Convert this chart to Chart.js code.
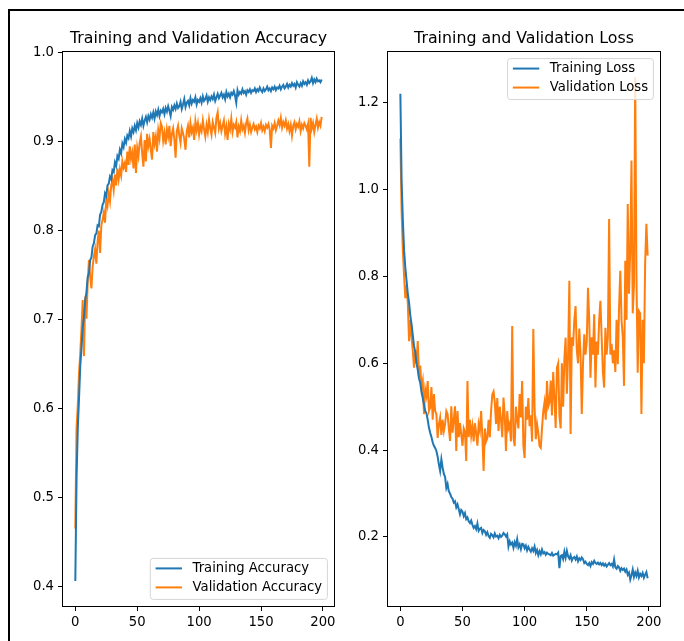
<!DOCTYPE html>
<html>
<head>
<meta charset="utf-8">
<script src="https://cdn.jsdelivr.net/npm/chart.js@4.4.0/dist/chart.umd.min.js"></script>
<style>
body { margin: 0; background: #fff; width: 684px; height: 641px; overflow: hidden; position: relative; }
#frame { position: absolute; left: 8px; top: 9px; width: 700px; height: 660px; border: 2px solid #000; box-sizing: border-box; }
canvas { position: absolute; top: 12px; }
#accChart { left: 12px; }
#lossChart { left: 345px; }
</style>
</head>
<body>
<div id="frame"></div>
<canvas id="accChart" width="330" height="625"></canvas>
<canvas id="lossChart" width="335" height="625"></canvas>
<script>
// tick labels
let epochTicks = [0, 50, 100, 150, 200]
let accTicks = [0.4, 0.5, 0.6, 0.7, 0.8, 0.9, 1.0]
let lossTicks = [0.2, 0.4, 0.6, 0.8, 1.0, 1.2]

// values, one per epoch (0..199)
let trainAcc = [
	0.406, 0.522, 0.578, 0.612, 0.648, 0.668, 0.692, 0.703, 0.722, 0.731,
	0.748, 0.752, 0.767, 0.770, 0.782, 0.786, 0.795, 0.797, 0.806, 0.805,
	0.818, 0.821, 0.829, 0.832, 0.842, 0.839, 0.851, 0.853, 0.861, 0.858,
	0.868, 0.866, 0.877, 0.873, 0.884, 0.881, 0.891, 0.887, 0.898, 0.894,
	0.903, 0.899, 0.907, 0.904, 0.912, 0.906, 0.915, 0.911, 0.918, 0.913,
	0.921, 0.916, 0.923, 0.919, 0.926, 0.918, 0.924, 0.928, 0.922, 0.929,
	0.925, 0.931, 0.927, 0.933, 0.926, 0.934, 0.930, 0.936, 0.929, 0.935,
	0.933, 0.937, 0.931, 0.938, 0.934, 0.940, 0.935, 0.929, 0.939, 0.936,
	0.941, 0.937, 0.943, 0.938, 0.940, 0.945, 0.937, 0.942, 0.948, 0.939,
	0.944, 0.946, 0.941, 0.949, 0.943, 0.947, 0.945, 0.950, 0.942, 0.947,
	0.945, 0.949, 0.944, 0.951, 0.946, 0.948, 0.952, 0.945, 0.950, 0.947,
	0.951, 0.948, 0.953, 0.946, 0.950, 0.954, 0.949, 0.952, 0.955, 0.950,
	0.953, 0.948, 0.956, 0.951, 0.954, 0.950, 0.955, 0.953, 0.957, 0.952,
	0.944, 0.958, 0.953, 0.956, 0.954, 0.959, 0.955, 0.957, 0.953, 0.958,
	0.956, 0.959, 0.955, 0.958, 0.957, 0.960, 0.956, 0.959, 0.957, 0.961,
	0.958, 0.956, 0.960, 0.957, 0.959, 0.962, 0.958, 0.960, 0.957, 0.961,
	0.959, 0.962, 0.958, 0.961, 0.960, 0.963, 0.959, 0.962, 0.964, 0.960,
	0.962, 0.965, 0.961, 0.964, 0.962, 0.966, 0.963, 0.965, 0.961, 0.967,
	0.964, 0.962, 0.966, 0.963, 0.968, 0.965, 0.967, 0.964, 0.969, 0.966,
	0.968, 0.972, 0.966, 0.970, 0.967, 0.971, 0.968, 0.969, 0.967, 0.970,
]

let valAcc = [
	0.465, 0.578, 0.603, 0.640, 0.662, 0.690, 0.722, 0.659, 0.726, 0.701,
	0.742, 0.767, 0.748, 0.735, 0.760, 0.771, 0.779, 0.763, 0.788, 0.800,
	0.775, 0.806, 0.812, 0.820, 0.809, 0.835, 0.828, 0.842, 0.833, 0.851,
	0.857, 0.846, 0.863, 0.851, 0.870, 0.858, 0.869, 0.862, 0.878, 0.871,
	0.876, 0.866, 0.889, 0.874, 0.895, 0.881, 0.888, 0.870, 0.897, 0.865,
	0.893, 0.884, 0.899, 0.906, 0.887, 0.872, 0.902, 0.878, 0.909, 0.895,
	0.903, 0.891, 0.880, 0.911, 0.898, 0.906, 0.889, 0.913, 0.904, 0.921,
	0.917, 0.901, 0.910, 0.897, 0.914, 0.906, 0.918, 0.895, 0.909, 0.915,
	0.903, 0.882, 0.912, 0.918, 0.907, 0.899, 0.915, 0.910, 0.903, 0.891,
	0.912, 0.918, 0.905, 0.921, 0.911, 0.916, 0.902, 0.923, 0.913, 0.921,
	0.908, 0.917, 0.912, 0.924, 0.914, 0.906, 0.919, 0.911, 0.925, 0.915,
	0.908, 0.922, 0.916, 0.910, 0.927, 0.933, 0.915, 0.921, 0.912, 0.918,
	0.924, 0.909, 0.917, 0.902, 0.920, 0.914, 0.926, 0.911, 0.919, 0.916,
	0.922, 0.905, 0.917, 0.912, 0.924, 0.914, 0.918, 0.910, 0.921, 0.926,
	0.913, 0.919, 0.911, 0.916, 0.920, 0.914, 0.917, 0.911, 0.918, 0.915,
	0.921, 0.913, 0.917, 0.912, 0.919, 0.916, 0.920, 0.914, 0.893, 0.918,
	0.915, 0.921, 0.913, 0.918, 0.924, 0.919, 0.927, 0.916, 0.922, 0.918,
	0.924, 0.915, 0.920, 0.912, 0.919, 0.907, 0.918, 0.922, 0.914, 0.920,
	0.917, 0.923, 0.912, 0.919, 0.915, 0.921, 0.918, 0.914, 0.920, 0.872,
	0.927, 0.915, 0.921, 0.911, 0.919, 0.926, 0.916, 0.922, 0.918, 0.928,
]

let trainLoss = [
	1.221, 1.020, 0.930, 0.860, 0.820, 0.790, 0.760, 0.740, 0.710, 0.690,
	0.665, 0.640, 0.625, 0.600, 0.585, 0.565, 0.555, 0.535, 0.520, 0.505,
	0.490, 0.485, 0.470, 0.452, 0.440, 0.430, 0.418, 0.410, 0.405, 0.398,
	0.385, 0.367, 0.352, 0.379, 0.360, 0.345, 0.338, 0.313, 0.322, 0.305,
	0.300, 0.292, 0.288, 0.279, 0.282, 0.268, 0.275, 0.264, 0.252, 0.262,
	0.258, 0.248, 0.255, 0.241, 0.245, 0.236, 0.232, 0.238, 0.228, 0.221,
	0.225, 0.218, 0.231, 0.214, 0.219, 0.221, 0.209, 0.216, 0.213, 0.205,
	0.211, 0.202, 0.198, 0.207, 0.204, 0.199, 0.208, 0.201, 0.203, 0.197,
	0.205, 0.200, 0.203, 0.209, 0.206, 0.201, 0.206, 0.178, 0.190, 0.183,
	0.187, 0.175, 0.188, 0.180, 0.195, 0.176, 0.183, 0.172, 0.184, 0.183,
	0.174, 0.180, 0.169, 0.177, 0.171, 0.166, 0.174, 0.168, 0.178, 0.163,
	0.170, 0.158, 0.167, 0.160, 0.171, 0.162, 0.165, 0.159, 0.164, 0.161,
	0.160, 0.158, 0.163, 0.157, 0.159, 0.161, 0.160, 0.164, 0.128, 0.156,
	0.158, 0.149, 0.166, 0.152, 0.168, 0.155, 0.150, 0.158, 0.146, 0.152,
	0.154, 0.148, 0.155, 0.144, 0.151, 0.147, 0.153, 0.149, 0.140, 0.143,
	0.138, 0.135, 0.140, 0.133, 0.142, 0.138, 0.145, 0.140, 0.138, 0.141,
	0.137, 0.140, 0.135, 0.139, 0.134, 0.138, 0.132, 0.136, 0.140, 0.135,
	0.138, 0.132, 0.148, 0.130, 0.127, 0.133, 0.130, 0.122, 0.128, 0.124,
	0.127, 0.120, 0.125, 0.113, 0.118, 0.102, 0.112, 0.125, 0.108, 0.118,
	0.110, 0.122, 0.107, 0.115, 0.110, 0.117, 0.106, 0.113, 0.119, 0.105,
]

let valLoss = [
	1.118, 0.950, 0.860, 0.800, 0.750, 0.780, 0.737, 0.651, 0.700, 0.660,
	0.628, 0.590, 0.630, 0.600, 0.651, 0.567, 0.595, 0.545, 0.560, 0.483,
	0.540, 0.525, 0.559, 0.490, 0.498, 0.545, 0.470, 0.529, 0.490, 0.483,
	0.428, 0.460, 0.475, 0.435, 0.470, 0.444, 0.460, 0.490, 0.483, 0.450,
	0.421, 0.501, 0.440, 0.470, 0.501, 0.398, 0.490, 0.430, 0.462, 0.436,
	0.410, 0.450, 0.442, 0.375, 0.559, 0.430, 0.470, 0.433, 0.455, 0.420,
	0.462, 0.440, 0.410, 0.460, 0.445, 0.490, 0.430, 0.352, 0.450, 0.420,
	0.428, 0.470, 0.430, 0.490, 0.528, 0.535, 0.510, 0.460, 0.520, 0.444,
	0.500, 0.470, 0.430, 0.521, 0.480, 0.398, 0.490, 0.450, 0.460, 0.420,
	0.686, 0.430, 0.409, 0.500, 0.470, 0.450, 0.529, 0.475, 0.559, 0.410,
	0.382, 0.500, 0.470, 0.520, 0.455, 0.480, 0.420, 0.679, 0.500, 0.425,
	0.460, 0.440, 0.409, 0.405, 0.450, 0.490, 0.510, 0.470, 0.559, 0.500,
	0.510, 0.560, 0.480, 0.580, 0.520, 0.451, 0.590, 0.600, 0.480, 0.450,
	0.600, 0.500, 0.610, 0.659, 0.530, 0.620, 0.790, 0.437, 0.660, 0.640,
	0.700, 0.732, 0.630, 0.600, 0.680, 0.620, 0.483, 0.600, 0.667, 0.620,
	0.650, 0.774, 0.700, 0.567, 0.660, 0.620, 0.713, 0.544, 0.650, 0.620,
	0.700, 0.744, 0.660, 0.580, 0.544, 0.682, 0.620, 0.660, 0.932, 0.620,
	0.645, 0.600, 0.630, 0.580, 0.700, 0.598, 0.728, 0.813, 0.700, 0.660,
	0.548, 0.836, 0.700, 0.967, 0.760, 0.859, 1.067, 0.715, 0.780, 1.259,
	0.800, 0.578, 0.720, 0.715, 0.483, 0.700, 0.600, 0.832, 0.921, 0.848,
]

let blue = "#1f77b4"
let orange = "#ff7f0e"
let tickFont = {family: "DejaVu Sans", size: 13.2}

// matplotlib style box round the plot area
let frameBox = {
	id: "frameBox",
	afterDatasetsDraw(chart) {
		let ctx = chart.ctx
		let a = chart.chartArea
		ctx.save()
		ctx.strokeStyle = "#000"
		ctx.lineWidth = 1
		ctx.strokeRect(Math.round(a.left) - 0.5, Math.round(a.top) - 0.5, Math.round(a.right - a.left) + 1, Math.round(a.bottom - a.top) + 1)
		ctx.restore()
	}
}

// legend drawn inside the plot area
let innerLegend = {
	id: "innerLegend",
	afterDatasetsDraw(chart, args, opts) {
		let ctx = chart.ctx
		let a = chart.chartArea
		let sets = chart.data.datasets
		ctx.save()
		ctx.font = "13.2px 'DejaVu Sans'"
		let textW = Math.max(...sets.map(d => ctx.measureText(d.label).width))
		let w = 5.3 + 26.4 + 10.6 + textW + 5.3
		let h = 41
		let x = a.right - opts.inset - w
		let y = opts.corner == "bottom" ? a.bottom - opts.inset - h : a.top + opts.inset
		ctx.beginPath()
		ctx.roundRect(x, y, w, h, 3)
		ctx.fillStyle = "rgba(255, 255, 255, 0.8)"
		ctx.fill()
		ctx.strokeStyle = "#d5d5d5"
		ctx.lineWidth = 1
		ctx.stroke()
		sets.forEach(function (d, i) {
			let ry = y + 10 + i * 19
			ctx.beginPath()
			ctx.moveTo(x + 5.3, ry)
			ctx.lineTo(x + 31.7, ry)
			ctx.strokeStyle = d.borderColor
			ctx.lineWidth = 2
			ctx.stroke()
			ctx.fillStyle = "#000"
			ctx.textBaseline = "middle"
			ctx.fillText(d.label, x + 42.3, ry)
		})
		ctx.restore()
	}
}

function toPoints(values) {
	return values.map((v, i) => ({x: i, y: v}))
}

function makeConfig(title, labels, series, yMin, yMax, yTicks, yWidth, padRight, corner) {
	let colors = [blue, orange]
	return {
		type: "line",
		data: {
			datasets: series.map(function (s, i) {
				return {
					label: labels[i],
					data: toPoints(s),
					borderColor: colors[i],
					backgroundColor: colors[i],
					borderWidth: 2,
					pointRadius: 0,
					tension: 0,
					fill: false,
				}
			}),
		},
		options: {
			responsive: false,
			animation: false,
			layout: {padding: {left: 0, right: padRight, top: 0, bottom: 0}},
			plugins: {
				legend: {display: false},
				tooltip: {enabled: false},
				title: {
					display: true,
					text: title,
					fullSize: false,
					color: "#000",
					font: {family: "DejaVu Sans", size: 15.8, weight: "normal", lineHeight: 1.2},
					padding: {top: 17, bottom: 4},
				},
				innerLegend: {corner: corner, inset: 6.6},
			},
			scales: {
				x: {
					type: "linear",
					min: -9.95,
					max: 208.95,
					afterBuildTicks: axis => { axis.ticks = epochTicks.map(v => ({value: v})) },
					afterFit: axis => { axis.height = 31 },
					grid: {drawOnChartArea: false, drawTicks: true, tickLength: 5, color: "#000", lineWidth: 1},
					border: {display: false},
					ticks: {color: "#000", font: tickFont, padding: 4, maxRotation: 0, autoSkip: false, callback: v => String(v)},
				},
				y: {
					type: "linear",
					min: yMin,
					max: yMax,
					afterBuildTicks: axis => { axis.ticks = yTicks.map(v => ({value: v})) },
					afterFit: axis => { axis.width = yWidth },
					grid: {drawOnChartArea: false, drawTicks: true, tickLength: 5, color: "#000", lineWidth: 1},
					border: {display: false},
					ticks: {color: "#000", font: tickFont, padding: 4, autoSkip: false, callback: v => v.toFixed(1)},
				},
			},
		},
		plugins: [frameBox, innerLegend],
	}
}

new Chart(document.getElementById("accChart"), makeConfig(
	"Training and Validation Accuracy",
	["Training Accuracy", "Validation Accuracy"],
	[trainAcc, valAcc],
	0.378, 1.001, accTicks, 51, 8, "bottom"
))

new Chart(document.getElementById("lossChart"), makeConfig(
	"Training and Validation Loss",
	["Training Loss", "Validation Loss"],
	[trainLoss, valLoss],
	0.041, 1.317, lossTicks, 43, 20, "top"
))
</script>
</body>
</html>
